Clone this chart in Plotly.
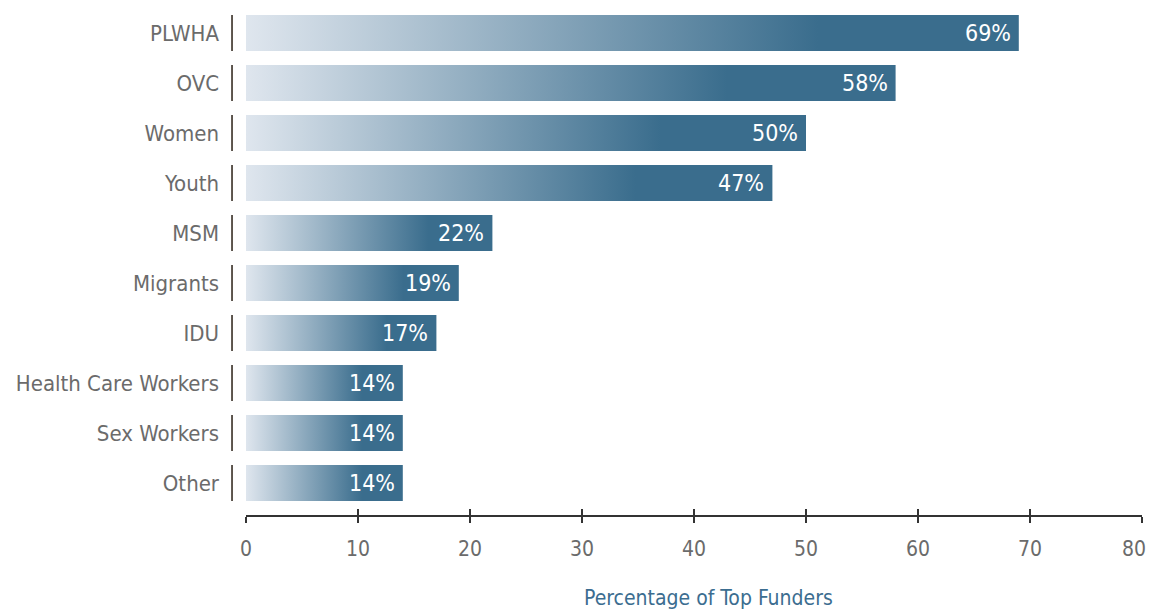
import plotly.graph_objects as go

categories = ["PLWHA", "OVC", "Women", "Youth", "MSM", "Migrants", "IDU",
              "Health Care Workers", "Sex Workers", "Other"]
values = [69, 58, 50, 47, 22, 19, 17, 14, 14, 14]
x_ticks = [0, 10, 20, 30, 40, 50, 60, 70, 80]
x_title = "Percentage of Top Funders"

FONT = "Liberation Sans Narrow, DejaVu Sans Condensed, Roboto, sans-serif"
LIGHT = "#dfe6ee"
DARK = "#3a6d8d"
TICK_GRAY = "#6b6b6b"
HALF = 0.36

fig = go.Figure()
for i, (cat, v) in enumerate(zip(categories, values)):
    fig.add_trace(go.Scatter(
        x=[0, v, v, 0, 0],
        y=[i - HALF, i - HALF, i + HALF, i + HALF, i - HALF],
        mode="lines", fill="toself", line=dict(width=0),
        fillgradient=dict(type="horizontal",
                          colorscale=[[0, LIGHT], [0.74, DARK], [1, DARK]]),
        hoveron="fills", name=cat, showlegend=False,
    ))
    fig.add_annotation(x=v, y=i, text=f"{v}%", showarrow=False,
                       xanchor="right", xshift=-6,
                       font=dict(family=FONT, size=23, color="white"))
    fig.add_shape(type="line", xref="paper", yref="y",
                  x0=-0.0156, x1=-0.0156, y0=i - HALF, y1=i + HALF,
                  line=dict(color="#2a2016", width=1.5))

# dummy trace for overlay axis (inside ticks)
fig.add_trace(go.Scatter(x=[None], y=[None], xaxis="x2", showlegend=False,
                         hoverinfo="skip"))

# last tick label drawn as annotation so it is not clipped at the page edge
tick_text = [str(t) for t in x_ticks[:-1]] + [""]
fig.add_annotation(x=x_ticks[-1], xref="x", y=0, yref="paper",
                   text=str(x_ticks[-1]), showarrow=False,
                   xanchor="right", xshift=6, yanchor="middle", yshift=-34,
                   font=dict(family=FONT, size=21, color=TICK_GRAY))
fig.add_annotation(x=0.5167, xref="paper", y=0, yref="paper",
                   text=x_title, showarrow=False,
                   xanchor="center", yanchor="middle", yshift=-83,
                   font=dict(family=FONT, size=21, color="#3b6d90"))

fig.update_layout(
    width=1148, height=604,
    margin=dict(l=238, r=14, t=2, b=97, autoexpand=False),
    plot_bgcolor="white", paper_bgcolor="white",
    font=dict(family=FONT),
    xaxis=dict(range=[0, 80], tickvals=x_ticks, ticktext=tick_text,
               showgrid=False, zeroline=False, automargin=False,
               showline=True, linecolor="#333333", linewidth=1.5,
               ticks="outside", ticklen=6, tickwidth=1.5, tickcolor="#333333",
               tickfont=dict(family=FONT, size=21, color=TICK_GRAY),
               ticklabelstandoff=8),
    xaxis2=dict(range=[0, 80], tickvals=x_ticks, overlaying="x", anchor="y",
                side="bottom", showgrid=False, zeroline=False, automargin=False,
                showline=False, ticks="inside", ticklen=6, tickwidth=1.5,
                tickcolor="#333333", showticklabels=False),
    yaxis=dict(range=[9.64, -0.46], tickvals=list(range(len(categories))),
               ticktext=categories, showgrid=False, zeroline=False,
               automargin=False,
               showline=False, ticks="", ticklabelstandoff=26,
               tickfont=dict(family=FONT, size=22, color=TICK_GRAY)),
)

fig.write_html("out.html")
